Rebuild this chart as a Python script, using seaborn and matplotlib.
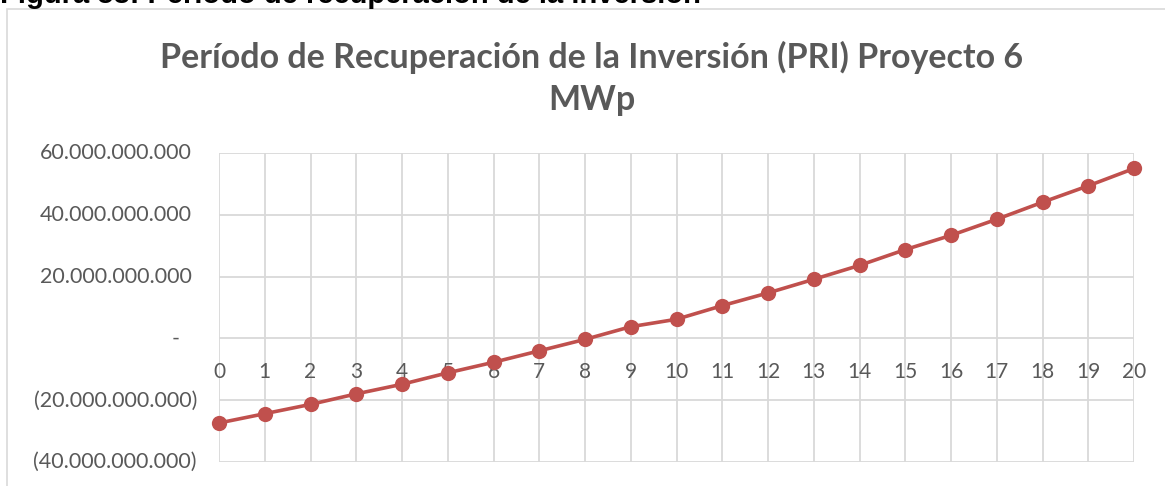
import pandas as pd
import matplotlib.pyplot as plt
import seaborn as sns
from matplotlib.patches import Rectangle

# Flujo acumulado por año
years = list(range(0, 21))
cumulative_flow = [-27.3e9, -24.3e9, -21.3e9, -17.9e9, -14.8e9, -11.1e9, -7.7e9,
                   -4.0e9, -0.3e9, 3.8e9, 6.2e9, 10.6e9, 14.7e9, 19.1e9, 23.6e9,
                   28.7e9, 33.3e9, 38.5e9, 44.0e9, 49.3e9, 54.9e9]
y_ticks = [-40e9, -20e9, 0, 20e9, 40e9, 60e9]
y_labels = ['(40.000.000.000)', '(20.000.000.000)', '-',
            '20.000.000.000', '40.000.000.000', '60.000.000.000']

df = pd.DataFrame({'year': years, 'flow': cumulative_flow})

sns.set_style('white')
plt.rcParams['font.family'] = ['Lato', 'DejaVu Sans']

gray = '#595959'
grid = '#D9D9D9'
red = '#C0504D'

fig = plt.figure(figsize=(11.65, 4.86), dpi=100)
W, H = 1165, 486

# Marco del gráfico (recortado a la derecha y abajo)
fig.patches.append(Rectangle((7 / W, -0.1), 1.2, 1.1 - 9 / H, transform=fig.transFigure,
                             fill=False, edgecolor=grid, lw=1.2))

# Leyenda de la figura, cortada en el borde superior
fig.text(0.0, 1 - 3 / H, 'Figura 58: Período de recuperación de la inversión',
         family='Liberation Sans', fontweight='bold', fontsize=21, color='black',
         va='baseline', ha='left')

ax = fig.add_axes([219 / W, (H - 462.3) / H, (1134 - 219) / W, (462.3 - 152.7) / H])

sns.lineplot(data=df, x='year', y='flow', ax=ax, color=red, lw=2.6, marker='o',
             markersize=11, markeredgewidth=0, zorder=3, clip_on=False)

ax.set_xlim(0, 20)
ax.set_ylim(-40e9, 60e9)
ax.set_xticks(years)
ax.set_yticks(y_ticks)
ax.grid(True, color=grid, lw=1.3)
ax.set_axisbelow(True)
for s in ax.spines.values():
    s.set_visible(False)

# Etiquetas del eje X sobre la línea del cero
ax.spines['bottom'].set_position(('data', 0))
ax.tick_params(axis='x', length=0, pad=17, labelsize=15, labelcolor=gray)
ax.set_xticklabels([str(y) for y in years])

# Etiquetas del eje Y en formato contable
ax.set_yticklabels([])
ax.tick_params(axis='y', length=0)
trans = ax.get_yaxis_transform()
for val, lab in zip(y_ticks, y_labels):
    if lab.startswith('('):
        off = -22
    elif lab == '-':
        off = -39
    else:
        off = -27
    ax.annotate(lab, xy=(0, val), xycoords=trans, xytext=(off * 0.72, 0),
                textcoords='offset points', ha='right', va='center',
                fontsize=15.5, color=gray)

ax.set_xlabel('')
ax.set_ylabel('')

fig.text(0.5 * (155 + 1028) / W, 1 - 78.5 / H,
         'Período de Recuperación de la Inversión (PRI) Proyecto 6\nMWp',
         ha='center', va='center', fontsize=24.5, fontweight='bold', color=gray,
         linespacing=1.4)

fig.savefig('out.png', dpi=100)
